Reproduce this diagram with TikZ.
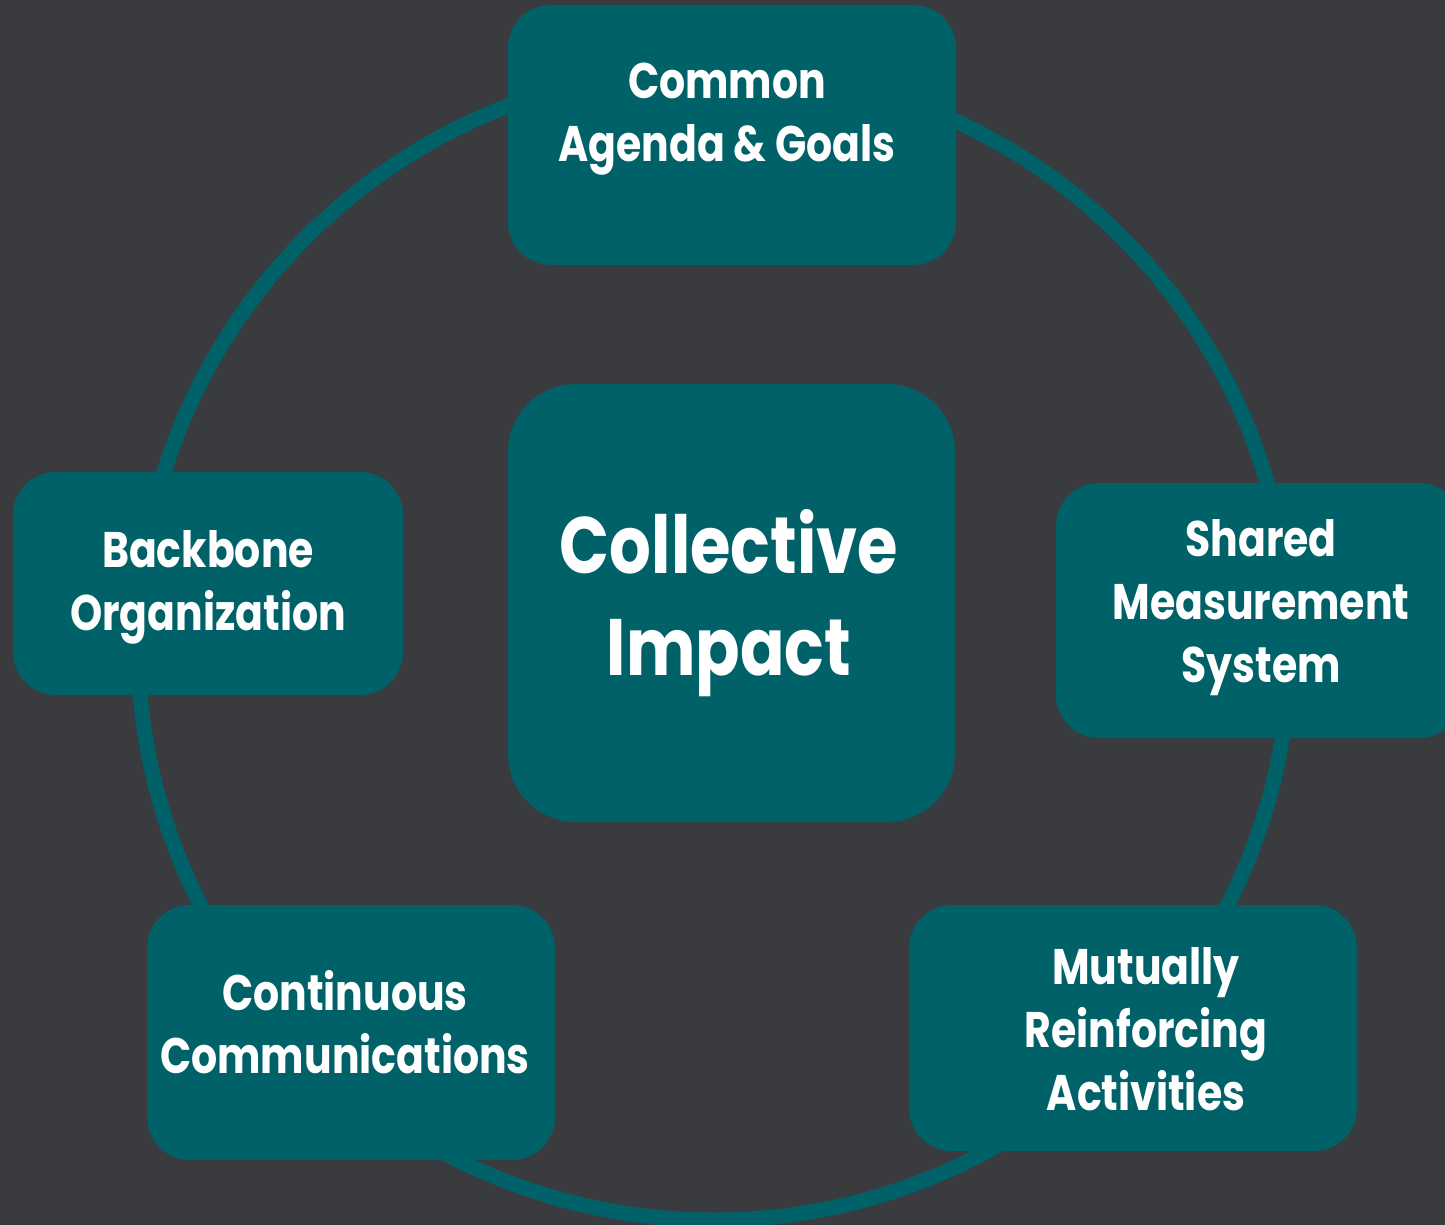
\documentclass[tikz,border=0pt]{standalone}
\usepackage{fontspec}
\setmainfont{Poppins}[FakeStretch=0.82]
\definecolor{slate}{RGB}{57,59,62}
\definecolor{teal}{RGB}{0,98,104}

\begin{document}
\begin{tikzpicture}[x=0.5pt,y=-0.5pt,
        box/.style={fill=teal,rounded corners=21.5pt,inner sep=0pt},
        lbl/.style={text=white,align=center,anchor=base,inner sep=0pt,
            font=\bfseries\fontsize{25}{31.5}\selectfont},
        ring/.style={draw=teal,line width=7.5pt}]
            \fill[slate] (0,0) rectangle (1445,1225);
            \useasboundingbox (0,0) rectangle (1445,1225);

            \coordinate (hub) at (714,644);
            \draw[ring] (hub) circle[radius=288pt];

             %boxes
                 \foreach \name/\cx/\cy/\w/\h in {agenda/732/135/224/130,
                         shared/1259/610.5/203/127.5, mutual/1133/1028/224/123,
                         contin/351/1032.5/204/127.5, backbone/208/583.5/195/111.5}
                     \node[box,minimum width=\w pt,minimum height=\h pt] (\name) at (\cx,\cy) {};
            \node[box,rounded corners=34pt,minimum width=223.5pt,minimum height=219pt] (core) at (731.5,603) {};

             %labels (base = last line)
            \node[lbl] (agendaTxt) at (727,162) {Common\\Agenda \& Goals};
            \node[lbl] (sharedTxt) at (1261,682) {Shared\\Measurement\\System};
            \node[lbl] (mutualTxt) at (1146,1110) {Mutually\\Reinforcing\\Activities};
            \node[lbl] (continTxt) at (345,1073) {Continuous\\Communications};
            \node[lbl] (backboneTxt) at (208,630) {Backbone\\Organization};
            \node[lbl,font=\bfseries\fontsize{40}{51}\selectfont] (coreTxt) at (729,675) {Collective\\Impact};
\end{tikzpicture}
\end{document}
